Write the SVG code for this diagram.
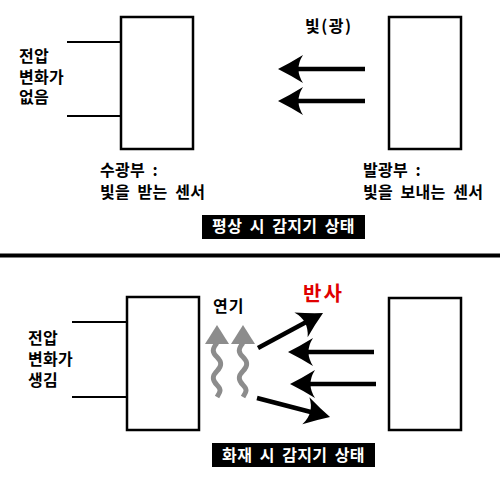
<svg xmlns="http://www.w3.org/2000/svg" width="500" height="482" viewBox="0 0 500 482">
<style>
.box{fill:#fff;stroke:#000;stroke-width:2.5}
.wire{stroke:#000;stroke-width:2}
.t{font-family:"Noto Sans CJK KR","Noto Sans",sans-serif;font-weight:bold;font-size:16px;letter-spacing:0.3px;word-spacing:3.6px;fill:#000}
.bt{font-family:"Noto Sans CJK KR","Noto Sans",sans-serif;font-weight:bold;font-size:16px;letter-spacing:0.3px;word-spacing:3.6px;fill:#fff}
.red{font-family:"Noto Sans CJK KR","Noto Sans",sans-serif;font-weight:bold;font-size:20px;letter-spacing:2px;fill:#e00000}
.ray{stroke:#000;stroke-width:4.5;fill:none;marker-end:url(#ah)}
.smoke{stroke:#8c8c8c;stroke-width:5;fill:none}
.smokehead{fill:#8c8c8c}
</style>
<defs>
<marker id="ah" markerUnits="userSpaceOnUse" viewBox="-27 -15 29 30" refX="-8" refY="0" markerWidth="29" markerHeight="30" orient="auto" overflow="visible">
<path d="M0,0 Q-12,-6 -25,-14 Q-16,0 -25,14 Q-12,6 0,0 Z" fill="#000"/>
</marker>
</defs>

<rect x="0" y="0" width="500" height="482" fill="#fff"/>

<g id="connectors">
<line class="wire" x1="67" y1="42" x2="121" y2="42"/>
<line class="wire" x1="67" y1="116" x2="121" y2="116"/>
<line class="wire" x1="72" y1="322" x2="127" y2="322"/>
<line class="wire" x1="72" y1="397" x2="127" y2="397"/>
<line class="ray" x1="365" y1="69" x2="286" y2="69"/>
<line class="ray" x1="365" y1="101" x2="286" y2="101"/>
<line class="ray" x1="374" y1="352" x2="296" y2="352"/>
<line class="ray" x1="376" y1="384" x2="298" y2="384"/>
<line class="ray" x1="258" y1="348" x2="316" y2="316.8"/>
<line class="ray" x1="257" y1="398" x2="322.3" y2="415"/>
</g>

<g id="receiver-normal">
<rect class="box" x="121" y="17" width="72" height="132"/>
<text class="t" x="19" y="62">전압</text>
<text class="t" x="19" y="82.5">변화가</text>
<text class="t" x="19" y="103">없음</text>
<text class="t" x="100" y="176">수광부 :</text>
<text class="t" x="100" y="198">빛을 받는 센서</text>
</g>

<g id="emitter-normal">
<rect class="box" x="389" y="17" width="72" height="132"/>
<text class="t" x="305" y="32" style="letter-spacing:1.5px">빛(광)</text>
<text class="t" x="363" y="176">발광부 :</text>
<text class="t" x="363" y="198">빛을 보내는 센서</text>
</g>

<g id="label-normal">
<rect x="202" y="215" width="163" height="24" fill="#000"/>
<text class="bt" x="283.5" y="232" text-anchor="middle">평상 시 감지기 상태</text>
</g>

<rect id="separator" x="0" y="253.5" width="500" height="4" fill="#000"/>

<g id="receiver-fire">
<rect class="box" x="127" y="297" width="72" height="133"/>
<text class="t" x="28" y="344">전압</text>
<text class="t" x="28" y="365">변화가</text>
<text class="t" x="28" y="386">생김</text>
</g>

<g id="smoke">
<text class="t" x="213" y="312" style="letter-spacing:1px">연기</text>
<polygon class="smokehead" points="217,325 205,344 229,344"/>
<path class="smoke" d="M217,343 C212,349 212,352 217,357 S222,366 217,371 S212,380 217,385 S220,392 217,397"/>
<polygon class="smokehead" points="243,325 231,344 255,344"/>
<path class="smoke" d="M243,343 C238,349 238,352 243,357 S248,366 243,371 S238,380 243,385 S246,392 243,397"/>
</g>

<g id="reflect-label">
<text class="red" x="303" y="301">반사</text>
</g>

<g id="emitter-fire">
<rect class="box" x="389" y="298" width="72" height="132"/>
</g>

<g id="label-fire">
<rect x="212" y="443" width="163" height="24" fill="#000"/>
<text class="bt" x="293.5" y="461" text-anchor="middle">화재 시 감지기 상태</text>
</g>
</svg>
